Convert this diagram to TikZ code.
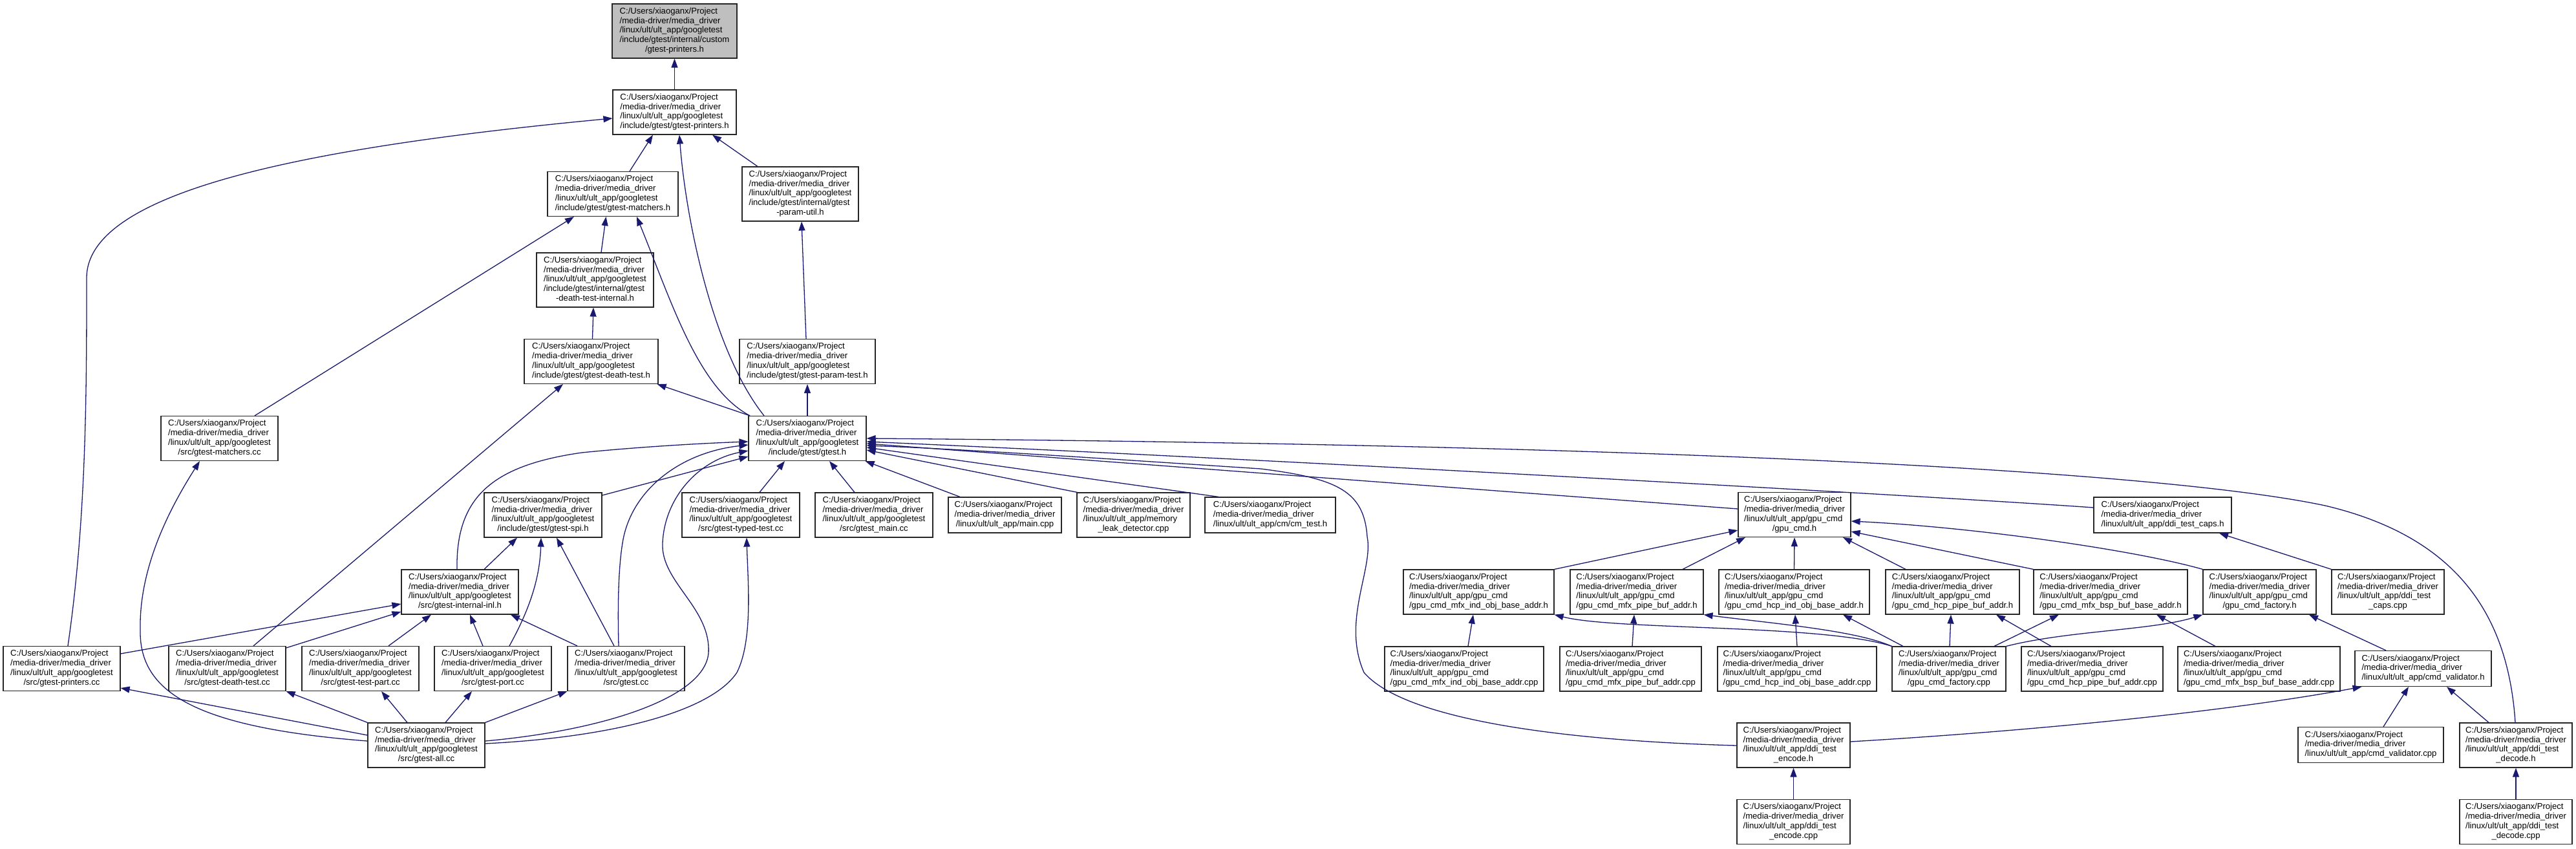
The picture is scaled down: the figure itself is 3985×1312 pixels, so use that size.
\documentclass[tikz,border=0pt]{standalone}
\usepackage{fontspec}
\setmainfont{Liberation Sans}
\usetikzlibrary{arrows.meta}
\definecolor{edgeblue}{RGB}{25,25,112}
\definecolor{nodegray}{RGB}{191,191,191}
\newcommand\dfont{\fontsize{13.1}{14.8}\selectfont}
\newcommand\lbl[2]{\begin{tabular}{@{}l@{}}#1\\\multicolumn{1}{@{}c@{}}{#2}\end{tabular}}
\newcommand\pre{C:/Users/xiaoganx/Project\\/media-driver/media\_driver}
\newcommand\gt{\pre\\/linux/ult/ult\_app/googletest}
\newcommand\gc{\pre\\/linux/ult/ult\_app/gpu\_cmd}
\begin{document}
\begin{tikzpicture}[x=1pt,y=-1pt,
  box/.style={draw=black!85, line width=1.2pt, fill=white, inner xsep=3pt, inner ysep=0pt, font=\dfont, text=black},
  hl/.style={box, fill=nodegray},
  lthree/.style={minimum height=55pt},
  lfour/.style={minimum height=69pt},
  lfive/.style={minimum height=84pt},
  edge/.style={draw=edgeblue, line width=1.3pt, arrows={-Triangle[length=14pt,width=10pt]}}]
\useasboundingbox (0,0) rectangle (3985,1312);
\fill[white] (0,0) rectangle (3985,1312);

% googletest headers
\node[hl,lfive,minimum width=193pt] (N0) at (1043.5,48) {\lbl{\gt\\/include/gtest/internal/custom}{/gtest-printers.h}};
\node[box,lfour,minimum width=191pt] (N1) at (1043.5,173.5) {\lbl{\gt}{/include/gtest/gtest-printers.h}};
\node[box,lfour,minimum width=202pt] (N2) at (948,300) {\lbl{\gt}{/include/gtest/gtest-matchers.h}};
\node[box,lfive,minimum width=181pt] (N3) at (920.5,433) {\lbl{\gt\\/include/gtest/internal/gtest}{-death-test-internal.h}};
\node[box,lfour,minimum width=207pt] (N4) at (914.5,559) {\lbl{\gt}{/include/gtest/gtest-death-test.h}};
\node[box,lfive,minimum width=180pt] (N5) at (1238,300) {\lbl{\gt\\/include/gtest/internal/gtest}{-param-util.h}};
\node[box,lfour,minimum width=210pt] (N6) at (1249,559) {\lbl{\gt}{/include/gtest/gtest-param-test.h}};
\node[box,lfour,minimum width=182pt] (N7) at (1249,678) {\lbl{\gt}{/include/gtest/gtest.h}};
\node[box,lfour,minimum width=181pt] (N8) at (339.5,678) {\lbl{\gt}{/src/gtest-matchers.cc}};
\node[box,lfour,minimum width=182pt] (N9) at (840,796.5) {\lbl{\gt}{/include/gtest/gtest-spi.h}};
\node[box,lfour,minimum width=181pt] (N10) at (711.5,915.5) {\lbl{\gt}{/src/gtest-internal-inl.h}};
\node[box,lfour,minimum width=181pt] (N11) at (95.5,1034) {\lbl{\gt}{/src/gtest-printers.cc}};
\node[box,lfour,minimum width=181pt] (N12) at (351.5,1034) {\lbl{\gt}{/src/gtest-death-test.cc}};
\node[box,lfour,minimum width=181pt] (N13) at (557.5,1034) {\lbl{\gt}{/src/gtest-test-part.cc}};
\node[box,lfour,minimum width=181pt] (N14) at (762.5,1034) {\lbl{\gt}{/src/gtest-port.cc}};
\node[box,lfour,minimum width=181pt] (N15) at (968.5,1034) {\lbl{\gt}{/src/gtest.cc}};
\node[box,lfour,minimum width=181pt] (N16) at (659.5,1152.5) {\lbl{\gt}{/src/gtest-all.cc}};
\node[box,lfour,minimum width=182pt] (N17) at (1146,796.5) {\lbl{\gt}{/src/gtest-typed-test.cc}};
\node[box,lfour,minimum width=182pt] (N18) at (1352,796.5) {\lbl{\gt}{/src/gtest\_main.cc}};
\node[box,lthree,minimum width=175pt] (N19) at (1554.5,796.5) {\lbl{\pre}{/linux/ult/ult\_app/main.cpp}};
\node[box,lfour,minimum width=175pt] (N20) at (1753.5,796.5) {\lbl{\pre\\/linux/ult/ult\_app/memory}{\_leak\_detector.cpp}};
\node[box,lthree,minimum width=202pt] (N21) at (1965,796.5) {\lbl{\pre}{/linux/ult/ult\_app/cm/cm\_test.h}};

% gpu_cmd
\node[box,lfour,minimum width=174pt] (N22) at (2776,796) {\lbl{\gc}{/gpu\_cmd.h}};
\node[box,lfour,minimum width=233pt] (N23) at (2287.5,915.5) {\lbl{\gc}{/gpu\_cmd\_mfx\_ind\_obj\_base\_addr.h}};
\node[box,lfour,minimum width=206pt] (N24) at (2532,915.5) {\lbl{\gc}{/gpu\_cmd\_mfx\_pipe\_buf\_addr.h}};
\node[box,lfour,minimum width=233pt] (N25) at (2775.5,915.5) {\lbl{\gc}{/gpu\_cmd\_hcp\_ind\_obj\_base\_addr.h}};
\node[box,lfour,minimum width=207pt] (N26) at (3020.5,915.5) {\lbl{\gc}{/gpu\_cmd\_hcp\_pipe\_buf\_addr.h}};
\node[box,lfour,minimum width=238pt] (N34) at (3265,915.5) {\lbl{\gc}{/gpu\_cmd\_mfx\_bsp\_buf\_base\_addr.h}};
\node[box,lfour,minimum width=175pt] (N35) at (3495.5,915.5) {\lbl{\gc}{/gpu\_cmd\_factory.h}};
\node[box,lfour,minimum width=174pt] (N36) at (3694,915.5) {\lbl{\pre\\/linux/ult/ult\_app/ddi\_test}{\_caps.cpp}};
\node[box,lfour,minimum width=246pt] (N27) at (2265,1034.5) {\lbl{\gc}{/gpu\_cmd\_mfx\_ind\_obj\_base\_addr.cpp}};
\node[box,lfour,minimum width=219pt] (N28) at (2522.5,1034.5) {\lbl{\gc}{/gpu\_cmd\_mfx\_pipe\_buf\_addr.cpp}};
\node[box,lfour,minimum width=246pt] (N29) at (2780,1034.5) {\lbl{\gc}{/gpu\_cmd\_hcp\_ind\_obj\_base\_addr.cpp}};
\node[box,lfour,minimum width=176pt] (N30) at (3015,1034.5) {\lbl{\gc}{/gpu\_cmd\_factory.cpp}};
\node[box,lfour,minimum width=219pt] (N37) at (3236.5,1034.5) {\lbl{\gc}{/gpu\_cmd\_hcp\_pipe\_buf\_addr.cpp}};
\node[box,lfour,minimum width=251pt] (N38) at (3494.5,1034.5) {\lbl{\gc}{/gpu\_cmd\_mfx\_bsp\_buf\_base\_addr.cpp}};
\node[box,lthree,minimum width=213pt] (N33) at (3345.5,796.5) {\lbl{\pre}{/linux/ult/ult\_app/ddi\_test\_caps.h}};
\node[box,lthree,minimum width=211pt] (N39) at (3748.5,1034) {\lbl{\pre}{/linux/ult/ult\_app/cmd\_validator.h}};
\node[box,lthree,minimum width=225pt] (N40) at (3667.5,1152) {\lbl{\pre}{/linux/ult/ult\_app/cmd\_validator.cpp}};
\node[box,lfour,minimum width=174pt] (N41) at (3892,1152.5) {\lbl{\pre\\/linux/ult/ult\_app/ddi\_test}{\_decode.h}};
\node[box,lfour,minimum width=174pt] (N42) at (3892,1271) {\lbl{\pre\\/linux/ult/ult\_app/ddi\_test}{\_decode.cpp}};
\node[box,lfour,minimum width=175pt] (N31) at (2774.5,1152.5) {\lbl{\pre\\/linux/ult/ult\_app/ddi\_test}{\_encode.h}};
\node[box,lfour,minimum width=175pt] (N32) at (2774.5,1271) {\lbl{\pre\\/linux/ult/ult\_app/ddi\_test}{\_encode.cpp}};

% edges: upper part
\draw[edge] (N1.north) -- (N0.south);
\draw[edge] ([xshift=26pt]N2.north) -- ([xshift=-33.5pt]N1.south);
\draw[edge] ([xshift=-67pt]N7.north) .. controls (1100,540) and (1060,330) .. ([xshift=7.5pt]N1.south);
\draw[edge] ([xshift=-66pt]N5.north) -- ([xshift=58.5pt]N1.south);
\draw[edge] ([xshift=9.5pt]N11.north) .. controls (134,800) and (134,600) .. (134,430) .. controls (134,300) and (450,230) .. ([yshift=-9.5pt]N1.west);
\draw[edge] ([xshift=9.5pt]N3.north) -- ([xshift=-10.5pt]N2.south);
\draw[edge] ([xshift=-89pt]N7.north) .. controls (1080,600) and (1040,470) .. ([xshift=37pt]N2.south);
\draw[edge] ([xshift=54.5pt]N8.north) -- ([xshift=-60pt]N2.south);
\draw[edge] ([xshift=2pt]N4.north) -- ([xshift=-2.5pt]N3.south);
\draw[edge] ([xshift=-89pt]N7.north) -- ([xshift=-2pt]N4.south east);
\draw[edge] ([xshift=40.5pt]N12.north) -- ([xshift=-43.5pt]N4.south);
\draw[edge] ([xshift=-2pt]N6.north) -- ([xshift=2pt]N5.south);
\draw[edge] (N7.north) -- (N6.south);

% into gtest.h
\draw[edge] ([xshift=-4.5pt]N10.north) .. controls (705,770) and (760,720) .. (900,700) .. controls (1000,690) and (1100,685) .. ([yshift=-5pt]N7.west);
\draw[edge] ([yshift=30.5pt]N9.east) -- ([yshift=-28pt]N7.west);
\draw[edge] ([xshift=-11.5pt]N15.north) .. controls (955,920) and (958,870) .. (963,840) .. controls (975,760) and (1050,700) .. ([yshift=-10pt]N7.west);
\draw[edge] ([yshift=6.5pt]N16.east) .. controls (930,1130) and (1090,1080) .. (1096,1010) .. controls (1100,940) and (1022,900) .. (1025,840) .. controls (1028,770) and (1080,712) .. ([yshift=-19pt]N7.west);
\draw[edge] ([yshift=2.5pt]N16.east) .. controls (950,1140) and (1100,1100) .. (1140,1040) .. controls (1165,990) and (1157,900) .. ([xshift=9pt]N17.south);
\draw[edge] ([xshift=29pt]N17.north) -- ([xshift=-35pt]N7.south);
\draw[edge] ([xshift=-30pt]N18.north) -- ([xshift=34pt]N7.south);
\draw[edge] ([xshift=-69.5pt]N19.north) -- ([xshift=-2pt]N7.south east);
\draw[edge] ([xshift=-87pt]N20.north) -- ([yshift=-18pt]N7.east);
\draw[edge] ([xshift=-80pt]N21.north) -- ([yshift=-14pt]N7.east);
\draw[edge] ([yshift=9pt]N22.west) -- ([yshift=-8pt]N7.east);
\draw[edge] ([yshift=11.5pt]N33.west) .. controls (3000,768) and (2000,712) .. ([yshift=-5pt]N7.east);
\draw[edge] ([xshift=-1pt]N41.north) .. controls (3880,950) and (3800,830) .. (3597,782) .. controls (3400,740) and (2800,690) .. (N7.east);
\draw[edge] ([yshift=-0.5pt]N31.west) .. controls (2400,1145) and (2170,1110) .. (2110,1040) .. controls (2075,960) and (2125,880) .. (2115,830) .. controls (2110,760) and (2070,740) .. (1950,725) .. controls (1750,712) and (1500,695) .. ([yshift=-11pt]N7.east);

% gpu_cmd edges
\draw[edge] (N23.north east) -- ([yshift=-24pt]N22.west);
\draw[edge] ([xshift=71pt]N24.north) -- ([xshift=-76pt]N22.south);
\draw[edge] (N25.north) -- (N22.south);
\draw[edge] ([xshift=-72.5pt]N26.north) -- ([xshift=75pt]N22.south);
\draw[edge] (N34.north west) -- ([yshift=-26pt]N22.east);
\draw[edge] (N35.north west) .. controls (3300,850) and (3050,815) .. ([yshift=-10pt]N22.east);
\draw[edge] ([xshift=6pt]N27.north) -- ([xshift=-8.5pt]N23.south);
\draw[edge] ([xshift=2.5pt]N28.north) -- ([xshift=-4pt]N24.south);
\draw[edge] (N29.north) -- ([xshift=1.5pt]N25.south);
\draw[edge] (N30.north west) .. controls (2820,965) and (2500,975) .. (N23.south east);
\draw[edge] (N30.north west) .. controls (2870,975) and (2750,965) .. (N24.south east);
\draw[edge] ([xshift=-71pt]N30.north) -- ([xshift=75.5pt]N25.south);
\draw[edge] ([xshift=1pt]N30.north) -- ([xshift=-2.5pt]N26.south);
\draw[edge] ([xshift=70pt]N30.north) -- ([xshift=-80pt]N34.south);
\draw[edge] (N30.north east) .. controls (3200,975) and (3330,975) .. (N35.south west);
\draw[edge] ([xshift=-63.5pt]N37.north) -- ([xshift=67.5pt]N26.south);
\draw[edge] ([xshift=-67.5pt]N38.north) -- ([xshift=71pt]N34.south);
\draw[edge] ([xshift=-57.5pt]N39.north) -- ([xshift=76.5pt]N35.south);
\draw[edge] (N36.north west) -- ([xshift=87.5pt]N33.south);
\draw[edge] ([yshift=5.5pt]N31.east) .. controls (3150,1130) and (3450,1100) .. ([xshift=-95pt]N39.south);
\draw[edge] ([xshift=19.5pt]N40.north) -- ([xshift=-22.5pt]N39.south);
\draw[edge] ([xshift=-42pt]N41.north) -- ([xshift=36.5pt]N39.south);
\draw[edge] (N42.north) -- (N41.south);
\draw[edge] (N32.north) -- (N31.south);

% gtest sources
\draw[edge] ([xshift=37.5pt]N10.north) -- ([xshift=-40pt]N9.south);
\draw[edge] ([xshift=25.5pt]N14.north) .. controls (815,950) and (835,900) .. ([xshift=-3pt]N9.south);
\draw[edge] ([xshift=-18.5pt]N15.north) -- ([xshift=21pt]N9.south);
\draw[edge] ([yshift=23pt]N11.east) -- ([yshift=-18.5pt]N10.west);
\draw[edge] ([yshift=32pt]N12.east) -- ([yshift=-30.5pt]N10.west);
\draw[edge] ([xshift=43.5pt]N13.north) -- ([xshift=-44.5pt]N10.south);
\draw[edge] ([xshift=-15.5pt]N14.north) -- ([xshift=15.5pt]N10.south);
\draw[edge] ([xshift=-75.5pt]N15.north) -- ([xshift=78.5pt]N10.south);
\draw[edge] ([yshift=15.5pt]N16.west) -- ([yshift=-30pt]N11.east);
\draw[edge] (N16.north west) -- (N12.south east);
\draw[edge] ([xshift=-29.5pt]N16.north) -- ([xshift=32.5pt]N13.south);
\draw[edge] ([xshift=29.5pt]N16.north) -- ([xshift=-32.5pt]N14.south);
\draw[edge] (N16.north east) -- (N15.south west);
\draw[edge] ([yshift=6.5pt]N16.west) .. controls (300,1125) and (215,1070) .. (217,974) .. controls (215,880) and (260,790) .. ([xshift=-30.5pt]N8.south);
\end{tikzpicture}
\end{document}
